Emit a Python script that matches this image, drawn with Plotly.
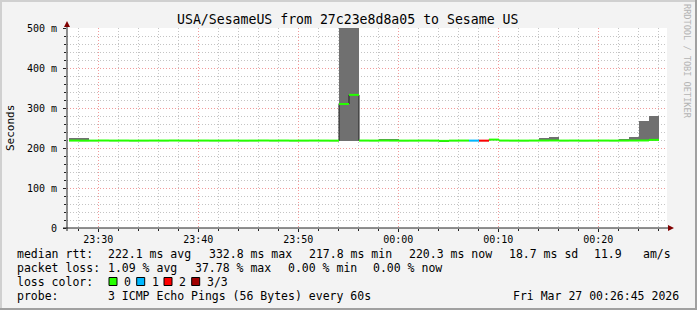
import plotly.graph_objects as go
import pandas as pd

# ---------------- data ----------------
TITLE = "USA/SesameUS from 27c23e8d8a05 to Sesame US"
STEP_START = "2026-03-26 23:27:04"   # first 60 s step shown
STEP_SECONDS = 60
X_RANGE = ["2026-03-26 23:26:52", "2026-03-27 00:26:52"]

median_ms = [
    218.6, 218.4, 218.5, 218.7, 218.5, 218.6, 218.4, 218.5, 218.6, 218.5,
    218.7, 218.5, 218.4, 218.6, 218.5, 218.5, 218.6, 218.4, 218.5, 218.7,
    218.5, 218.6, 218.4, 218.5, 218.6, 218.5, 218.4, 310.0, 332.8, 218.6,
    218.5, 218.7, 218.6, 218.4, 218.5, 218.6, 218.5, 217.8, 218.5, 218.6,
    218.5, 218.4, 221.0, 218.6, 218.5, 218.4, 218.6, 218.7, 218.8, 218.5,
    218.6, 218.4, 218.5, 218.6, 218.5, 218.6, 218.7, 218.8, 220.3,
]
smoke_lo_ms = [
    218.0, 217.9, 218.0, 218.1, 218.0, 218.1, 217.9, 218.0, 218.1, 218.0,
    218.2, 218.0, 217.9, 218.1, 218.0, 218.0, 218.1, 217.9, 218.0, 218.2,
    218.0, 218.1, 217.9, 218.0, 218.1, 218.0, 217.9, 217.2, 217.2, 218.1,
    218.0, 218.2, 218.1, 217.9, 218.0, 218.1, 218.0, 217.4, 218.0, 218.1,
    218.0, 217.9, 220.4, 218.1, 218.0, 217.9, 218.1, 218.2, 218.3, 218.0,
    218.1, 217.9, 218.0, 218.1, 218.0, 218.1, 218.2, 218.3, 219.8,
]
smoke_hi_ms = [
    224.0, 224.0, 219.0, 219.2, 219.0, 219.1, 218.9, 219.0, 219.1, 219.0,
    219.2, 219.0, 218.9, 219.1, 219.0, 219.0, 219.1, 218.9, 219.0, 219.2,
    219.0, 219.1, 218.9, 219.0, 219.1, 219.0, 218.9, 640.0, 660.0, 219.1,
    219.0, 222.5, 222.5, 218.9, 219.0, 219.1, 219.0, 218.3, 219.0, 219.1,
    219.0, 218.9, 221.5, 219.1, 219.0, 218.9, 219.1, 225.0, 227.5, 219.0,
    219.1, 218.9, 219.0, 219.1, 219.0, 222.0, 227.0, 267.5, 280.0,
]
loss_count = [
    0, 0, 0, 0, 0, 0, 0, 0, 0, 0,
    0, 0, 0, 0, 0, 0, 0, 0, 0, 0,
    0, 0, 0, 0, 0, 0, 0, 0, 0, 0,
    0, 0, 0, 0, 0, 0, 0, 0, 0, 0,
    1, 2, 0, 0, 0, 0, 0, 0, 0, 0,
    0, 0, 0, 0, 0, 0, 0, 0, 0,
]
loss_labels = ["0", "1", "2", "3/3"]
loss_colors = ["#26ff00", "#00b8ff", "#ff0000", "#a10000"]

y_tickvals = [0, 100, 200, 300, 400, 500]
y_ticktext = ["0", "100 m", "200 m", "300 m", "400 m", "500 m"]

legend_rows = [
    ["median rtt:", "222.1 ms avg", "332.8 ms max", "217.8 ms min", "220.3 ms now", "18.7 ms sd", "11.9", "am/s"],
    ["packet loss:", "1.09 % avg", "37.78 % max", "0.00 % min", "0.00 % now"],
    ["loss color:"],
    ["probe:", "3 ICMP Echo Pings (56 Bytes) every 60s"],
]
DATE_TEXT = "Fri Mar 27 00:26:45 2026"

# ---------------- layout geometry (pixels) ----------------
W, H = 697, 310
PL, PR, PT, PB = 67, 667, 28, 228     # plot area edges
MONO = "DejaVu Sans Mono"


def px(x):
    return (x - PL) / (PR - PL)


def py(y):
    return (PB - y) / (PB - PT)


starts = pd.date_range(STEP_START, periods=len(median_ms), freq=f"{STEP_SECONDS}s")
ends = starts + pd.Timedelta(seconds=STEP_SECONDS)
centers = starts + pd.Timedelta(seconds=STEP_SECONDS / 2)

fig = go.Figure()

# smoke
fig.add_trace(go.Bar(
    x=centers, base=smoke_lo_ms,
    y=[h - l for h, l in zip(smoke_hi_ms, smoke_lo_ms)],
    width=STEP_SECONDS * 1000,
    marker=dict(color="#707070", line=dict(width=0)),
    hoverinfo="skip", showlegend=False,
))

# dark connector of median (step line)
fig.add_trace(go.Scatter(
    x=list(starts) + [ends[-1]], y=median_ms + [median_ms[-1]],
    mode="lines", line=dict(color="#202020", width=1, shape="hv"),
    hoverinfo="skip", showlegend=False,
))

# median segments coloured by loss
for lvl, col in enumerate(loss_colors):
    xs, ys = [], []
    for s, e, m, l in zip(starts, ends, median_ms, loss_count):
        if l == lvl:
            xs += [s, e, None]
            ys += [m, m, None]
    if xs:
        fig.add_trace(go.Scatter(
            x=xs, y=ys, mode="lines",
            line=dict(color=col, width=2),
            hoverinfo="skip", showlegend=False,
        ))

MAJ = "#f29a9a"
MIN = "#c4c4c4"
DASH = "1px,2px"

fig.update_xaxes(
    type="date", range=X_RANGE, tick0="2026-03-26 23:30:00", dtick=600000,
    tickformat="%H:%M", showgrid=True, gridcolor=MAJ, griddash=DASH, gridwidth=1,
    ticks="outside", ticklen=3, tickcolor="#202020", ticklabelstandoff=-1,
    tickfont=dict(family=MONO, size=10, color="#000000"),
    minor=dict(dtick=120000, tick0="2026-03-26 23:30:00", showgrid=True,
               gridcolor=MIN, griddash=DASH, gridwidth=1,
               ticks="outside", ticklen=2, tickcolor="#202020"),
    showline=False, zeroline=False, fixedrange=True,
)
fig.update_yaxes(
    range=[0, 500], tickvals=y_tickvals, ticktext=y_ticktext,
    showgrid=True, gridcolor=MAJ, griddash=DASH, gridwidth=1,
    ticks="outside", ticklen=3, tickcolor="#202020", ticklabelstandoff=4,
    tickfont=dict(family=MONO, size=10, color="#000000"),
    minor=dict(dtick=20, tick0=0, showgrid=True, gridcolor=MIN, griddash=DASH,
               gridwidth=1, ticks="outside", ticklen=2, tickcolor="#202020"),
    showline=False, zeroline=False, fixedrange=True,
)

shapes = []
# frame shading
shapes.append(dict(type="rect", xref="paper", yref="paper", x0=px(0), x1=px(W), y0=py(0), y1=py(2),
                   fillcolor="#d0d0d0", line=dict(width=0), layer="above"))
shapes.append(dict(type="rect", xref="paper", yref="paper", x0=px(0), x1=px(2), y0=py(0), y1=py(H),
                   fillcolor="#d0d0d0", line=dict(width=0), layer="above"))
shapes.append(dict(type="rect", xref="paper", yref="paper", x0=px(W - 2), x1=px(W), y0=py(0), y1=py(H),
                   fillcolor="#a0a0a0", line=dict(width=0), layer="above"))
shapes.append(dict(type="rect", xref="paper", yref="paper", x0=px(0), x1=px(W), y0=py(H - 2), y1=py(H),
                   fillcolor="#a0a0a0", line=dict(width=0), layer="above"))
# axes
shapes.append(dict(type="line", xref="paper", yref="paper", x0=px(PL), x1=px(PL), y0=py(PB + 3), y1=py(24),
                   line=dict(color="#202020", width=1), layer="above"))
shapes.append(dict(type="line", xref="paper", yref="paper", x0=px(PL - 4), x1=px(PR + 3), y0=py(PB), y1=py(PB),
                   line=dict(color="#202020", width=1), layer="above"))
# arrows
shapes.append(dict(type="path", xref="paper", yref="paper",
                   path=f"M {px(PL-3)} {py(27)} L {px(PL+3)} {py(27)} L {px(PL)} {py(21)} Z",
                   fillcolor="#800000", line=dict(width=0), layer="above"))
shapes.append(dict(type="path", xref="paper", yref="paper",
                   path=f"M {px(PR+1)} {py(PB-3)} L {px(PR+1)} {py(PB+3)} L {px(PR+7)} {py(PB)} Z",
                   fillcolor="#800000", line=dict(width=0), layer="above"))

annotations = []


def txt(text, x, y, size=11.5, anchor="left", color="#000000", angle=0, family=MONO):
    annotations.append(dict(text=text, x=px(x), y=py(y), xref="paper", yref="paper",
                            xanchor=anchor, yanchor="middle", showarrow=False,
                            textangle=angle, borderpad=0,
                            font=dict(family=family, size=size, color=color)))


txt(TITLE, 347, 19, size=13.2, anchor="center")
txt("Seconds", 10, 128, size=11, anchor="center", angle=-90)
txt("RRDTOOL / TOBI OETIKER", 687, 61, size=8.6, anchor="center", angle=90, color="#b4b4b4")

row_y = [254, 268, 282, 296]
row_x = [
    [16.4, 107.3, 207.7, 307.7, 407.7, 507.7, 593.3, 641.7],
    [16.4, 107.3, 193.5, 286.7, 371.7],
    [16.4],
    [16.4, 107.3],
]
for items, xs, yy in zip(legend_rows, row_x, row_y):
    for t, xx in zip(items, xs):
        txt(t, xx, yy)
txt(DATE_TEXT, 680, row_y[3], anchor="right")

box_x = [109.0, 136.7, 164.0, 191.7]
for bx, col, lab in zip(box_x, loss_colors, loss_labels):
    shapes.append(dict(type="rect", xref="paper", yref="paper",
                       x0=px(bx), x1=px(bx + 8), y0=py(277.5 + 8), y1=py(277.5),
                       fillcolor=col, line=dict(color="#000000", width=1), layer="above"))
    txt(lab, bx + 14, row_y[2])

fig.update_layout(
    width=W, height=H,
    margin=dict(l=PL, r=W - PR, t=PT, b=H - PB, pad=0),
    paper_bgcolor="#f3f3f3", plot_bgcolor="#ffffff",
    showlegend=False, bargap=0,
    shapes=shapes, annotations=annotations,
)

fig.write_html("out.html")
